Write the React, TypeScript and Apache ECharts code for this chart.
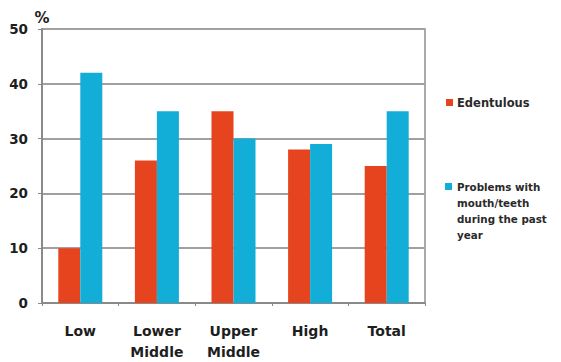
import React, { useEffect, useRef } from "react";
import * as echarts from "echarts";

const categories = ["Low", "Lower\nMiddle", "Upper\nMiddle", "High", "Total"];
const edentulous = [10, 26, 35, 28, 25];
const problems = [42, 35, 30, 29, 35];
const yTicks = [0, 10, 20, 30, 40, 50];
const legendNames = ["Edentulous", "Problems with\nmouth/teeth\nduring the past\nyear"];

const ORANGE = "#E6441F";
const BLUE = "#12AED7";

export default function App() {
  const ref = useRef<HTMLDivElement>(null);
  useEffect(() => {
    if (!ref.current) return;
    const chart = echarts.init(ref.current, null, { renderer: "svg" });
    const font = "'DejaVu Sans', Verdana, sans-serif";
    chart.setOption({
      animation: false,
      backgroundColor: "#ffffff",
      grid: {
        left: 42,
        top: 29,
        width: 383,
        height: 279,
        containLabel: false,
        show: true,
        borderColor: "#8f8f8f",
        borderWidth: 1.5,
      },
      xAxis: {
        type: "category",
        data: categories,
        axisLine: { lineStyle: { color: "#8a8a8a", width: 2 } },
        axisTick: { show: true, length: 3, lineStyle: { color: "#8a8a8a" } },
        axisLabel: {
          color: "#1e1e1e",
          fontWeight: "bold",
          fontSize: 14,
          fontFamily: font,
          margin: 17,
          lineHeight: 21,
        },
      },
      yAxis: {
        type: "value",
        min: yTicks[0],
        max: yTicks[yTicks.length - 1],
        interval: 10,
        name: "%",
        nameLocation: "end",
        nameGap: 4,
        nameTextStyle: { color: "#1e1e1e", fontWeight: "bold", fontSize: 15, fontFamily: font, align: "center" },
        axisLine: { show: true, lineStyle: { color: "#8a8a8a", width: 2 } },
        axisTick: { show: true, length: 4, lineStyle: { color: "#8a8a8a" } },
        axisLabel: { color: "#1e1e1e", fontWeight: "bold", fontSize: 13.5, fontFamily: font, margin: 14 },
        splitLine: { show: true, lineStyle: { color: "#a0a0a0", width: 2 } },
      },
      series: [
        {
          name: legendNames[0],
          type: "bar",
          data: edentulous,
          barWidth: 22,
          barGap: "0%",
          itemStyle: { color: ORANGE },
        },
        {
          name: legendNames[1],
          type: "bar",
          data: problems,
          barWidth: 22,
          barGap: "0%",
          itemStyle: { color: BLUE },
        },
      ],
      graphic: [
        { type: "rect", shape: { x: 446, y: 99, width: 7, height: 7 }, style: { fill: ORANGE } },
        {
          type: "text",
          x: 457,
          y: 103,
          style: { text: legendNames[0], fill: "#2a2a2a", font: `bold 11.5px ${font}`, verticalAlign: "middle" },
        },
        { type: "rect", shape: { x: 445, y: 183, width: 7, height: 7 }, style: { fill: BLUE } },
        {
          type: "text",
          x: 457,
          y: 179,
          style: { text: legendNames[1], fill: "#2a2a2a", font: `bold 10.3px ${font}`, lineHeight: 16, verticalAlign: "top" },
        },
      ],
    });
    return () => chart.dispose();
  }, []);
  return <div ref={ref} style={{ width: 561, height: 362, position: "absolute", left: 0, top: 0 }} />;
}
